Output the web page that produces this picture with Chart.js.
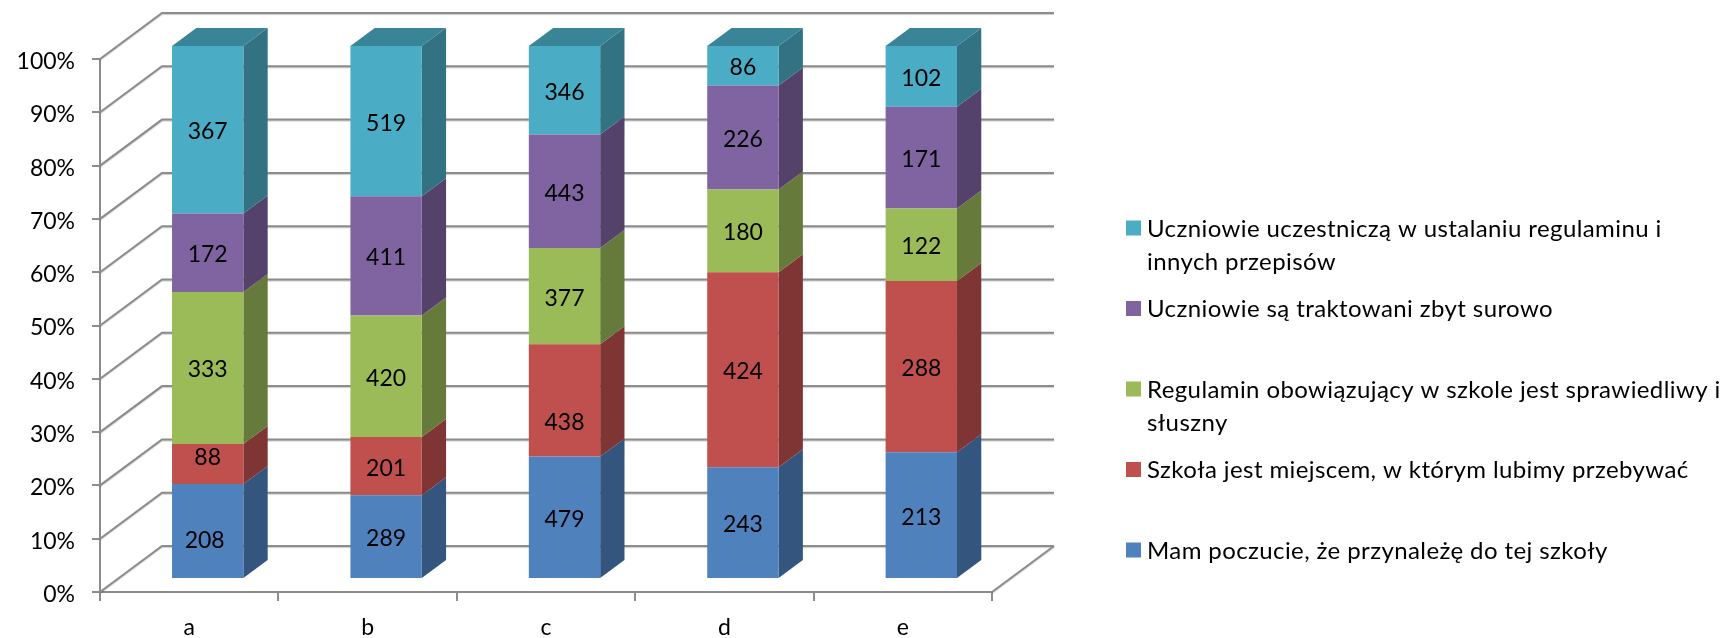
<!DOCTYPE html>
<html>
<head>
<meta charset="utf-8">
<title>Regulamin szkolny</title>
<style>
  html, body { margin: 0; padding: 0; background: #fff; overflow: hidden; }
  canvas { display: block; }
</style>
<script src="https://cdn.jsdelivr.net/npm/chart.js@4"></script>
</head>
<body>
<canvas id="wykres" width="1722" height="638"></canvas>
<script>
// Chart values, bottom segment first
const categories = ['a', 'b', 'c', 'd', 'e'];
const seriesNames = [
    'Mam poczucie, że przynależę do tej szkoły',
    'Szkoła jest miejscem, w którym lubimy przebywać',
    'Regulamin obowiązujący w szkole jest sprawiedliwy i\nsłuszny',
    'Uczniowie są traktowani zbyt surowo',
    'Uczniowie uczestniczą w ustalaniu regulaminu i\ninnych przepisów'
];
const przynaleznosc = [208, 289, 479, 243, 213];
const miejsce = [88, 201, 438, 424, 288];
const regulamin = [333, 420, 377, 180, 122];
const surowo = [172, 411, 443, 226, 171];
const ustalanie = [367, 519, 346, 86, 102];
const seriesValues = [przynaleznosc, miejsce, regulamin, surowo, ustalanie];
const seriesColors = ['#4f81bd', '#c0504d', '#9bbb59', '#8064a2', '#4bacc6'];
const yTicks = [0, 10, 20, 30, 40, 50, 60, 70, 80, 90, 100];

const FONT = 'Lato, Carlito, sans-serif';
const AXIS_COLOR = '#8c8c8c';

// 3D look: wall depth, and where the bars sit inside it
const wall = { dx: 62, dy: -46 };
const bar = { dx: 18.5, dy: -13, depthX: 24.3, depthY: -18 };

// a few labels were dragged off centre in the original, key is series,category
const labelNudge = { '0,0': [-3, 8], '1,0': [0, -8], '1,2': [0, 20] };

function shade(hex, f) {
    const n = parseInt(hex.slice(1), 16);
    const c = [n >> 16, (n >> 8) & 255, n & 255].map(v => Math.round(v * f));
    return 'rgb(' + c.join(',') + ')';
}

// every bar is its share of the category total
const totals = categories.map((_, i) => seriesValues.reduce((sum, s) => sum + s[i], 0));

const datasets = seriesNames.map((name, s) => ({
    label: name,
    data: seriesValues[s].map((v, i) => v / totals[i] * 100),
    backgroundColor: seriesColors[s],
    borderWidth: 0,
    clip: false
}));

const wallsPlugin = {
    id: 'walls',
    beforeDraw(chart) {
        // Lato sits a bit high on its middle baseline, push the y labels down
        chart.scales.y.getLabelItems(chart.chartArea).forEach(item => {
            item.options.translation[1] += 2.5;
        });
    },
    beforeDatasetsDraw(chart) {
        const { ctx, chartArea: area, scales: { y } } = chart;
        ctx.save();
        ctx.strokeStyle = AXIS_COLOR;
        ctx.lineWidth = 2;
        ctx.shadowColor = 'rgba(0,0,0,0.2)';
        ctx.shadowOffsetY = 1;
        ctx.shadowBlur = 1;
        ctx.beginPath();
        yTicks.forEach(t => {
            const py = y.getPixelForValue(t);
            ctx.moveTo(area.left, py);
            ctx.lineTo(area.left + wall.dx, py + wall.dy);
            ctx.lineTo(area.right + wall.dx, py + wall.dy);
        });
        const floor = y.getPixelForValue(0);
        ctx.moveTo(area.right, floor);
        ctx.lineTo(area.right + wall.dx, floor + wall.dy);
        ctx.stroke();
        ctx.shadowColor = 'transparent';

        // side and top faces, the front faces are the chart's own bars
        chart.getSortedVisibleDatasetMetas().forEach(meta => {
            meta.data.forEach(el => {
                const color = seriesColors[meta.index];
                const right = el.x + el.width / 2 + bar.dx;
                const top = el.y + bar.dy;
                const bottom = el.base + bar.dy;
                ctx.fillStyle = shade(color, 0.66);
                ctx.beginPath();
                ctx.moveTo(right, top);
                ctx.lineTo(right + bar.depthX, top + bar.depthY);
                ctx.lineTo(right + bar.depthX, bottom + bar.depthY);
                ctx.lineTo(right, bottom);
                ctx.closePath();
                ctx.fill();
                if (meta.index === seriesNames.length - 1) {
                    const left = right - el.width;
                    ctx.fillStyle = shade(color, 0.77);
                    ctx.beginPath();
                    ctx.moveTo(left, top);
                    ctx.lineTo(left + bar.depthX, top + bar.depthY);
                    ctx.lineTo(right + bar.depthX, top + bar.depthY);
                    ctx.lineTo(right, top);
                    ctx.closePath();
                    ctx.fill();
                }
            });
        });
        ctx.restore();
    },
    beforeDatasetDraw(chart) {
        chart.ctx.save();
        chart.ctx.translate(bar.dx, bar.dy);
    },
    afterDatasetDraw(chart) {
        chart.ctx.restore();
    },
    afterDatasetsDraw(chart) {
        const { ctx } = chart;
        ctx.save();
        ctx.fillStyle = '#000';
        ctx.font = '23px ' + FONT;
        ctx.textAlign = 'center';
        ctx.textBaseline = 'middle';
        chart.getSortedVisibleDatasetMetas().forEach(meta => {
            meta.data.forEach((el, i) => {
                const mid = (el.y + el.base) / 2;
                const nudge = labelNudge[meta.index + ',' + i] || [0, 0];
                ctx.fillText(seriesValues[meta.index][i], el.x + bar.dx + nudge[0], mid + bar.dy + 2 + nudge[1]);
            });
        });
        ctx.restore();
    }
};

// legend: even spacing, top entry first, second lines hang below the first
const legendPlugin = {
    id: 'sideLegend',
    afterDraw(chart) {
        const { ctx } = chart;
        const x = 1126, firstY = 228, step = 80.5, box = 15, lineGap = 33;
        ctx.save();
        ctx.font = '24px ' + FONT;
        ctx.letterSpacing = '0.4px';
        ctx.textBaseline = 'middle';
        ctx.textAlign = 'left';
        chart.data.datasets.slice().reverse().forEach((ds, i) => {
            const y = firstY + i * step;
            ctx.fillStyle = ds.backgroundColor;
            ctx.fillRect(x, y - 7.5, box, box);
            ctx.fillStyle = '#000';
            ds.label.split('\n').forEach((line, l) => {
                ctx.fillText(line, x + 21, y + 1 + l * lineGap);
            });
        });
        ctx.restore();
    }
};

new Chart(document.getElementById('wykres'), {
    type: 'bar',
    data: { labels: categories, datasets: datasets },
    plugins: [wallsPlugin, legendPlugin],
    options: {
        responsive: false,
        animation: false,
        events: [],
        datasets: { bar: { categoryPercentage: 0.4, barPercentage: 1 } },
        layout: { padding: { left: 0, top: 59, right: 730, bottom: 0 } },
        plugins: { legend: { display: false }, tooltip: { enabled: false } },
        scales: {
            x: {
                stacked: true,
                afterFit: scale => { scale.height = 46; },
                grid: { drawOnChartArea: false, color: AXIS_COLOR, lineWidth: 2, tickLength: 9 },
                border: { color: AXIS_COLOR, width: 2 },
                ticks: { color: '#000', font: { family: FONT, size: 23 }, padding: 13, maxRotation: 0 }
            },
            y: {
                stacked: true,
                min: 0,
                max: 100,
                afterFit: scale => { scale.width = 100; },
                grid: { drawOnChartArea: false, color: AXIS_COLOR, lineWidth: 2, tickLength: 8 },
                border: { color: AXIS_COLOR, width: 2 },
                ticks: {
                    color: '#000',
                    font: { family: FONT, size: 23 },
                    padding: 17,
                    stepSize: 10,
                    callback: v => v + '%'
                }
            }
        }
    }
});
</script>
</body>
</html>
